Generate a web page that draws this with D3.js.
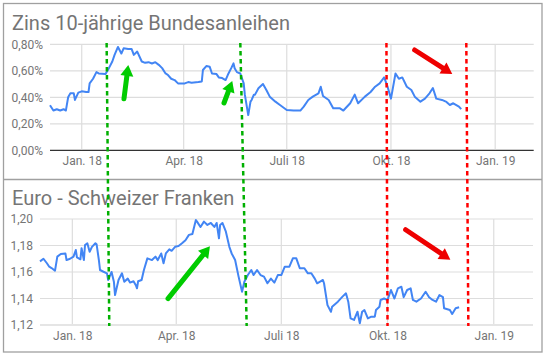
<!DOCTYPE html>
<html><head><meta charset="utf-8">
<script src="https://cdn.jsdelivr.net/npm/d3@7"></script>
<style>body{margin:0;background:#fff} svg{display:block;font-family:Roboto,sans-serif}</style>
</head><body><svg id="c" width="546" height="356"></svg>
<script>
// ---- data ----
const baseDate = "2018-01-01";
const xDomain = ["2017-12-04", "2019-02-04"];
const tickDates = ["2018-01-01", "2018-04-01", "2018-07-01", "2018-10-01", "2019-01-01"];
const tickLabels = ["Jan. 18", "Apr. 18", "Juli 18", "Okt. 18", "Jan. 19"];

const title1 = "Zins 10-jährige Bundesanleihen";
const title2 = "Euro - Schweizer Franken";

// days after 2018-01-01, yield in %
const topDays = [-28,-25,-22,-19,-16,-14,-12,-10,-7,-6,-3,0,4,6,7,10,13,15,21,24,27,29,32,35,37,41,44,46,49,53,56,59,62,65,68,71,74,76,79,82,85,91,94,97,103,106,107,110,113,115,119,121,124,127,129,132,134,135,137,140,143,144,147,149,150,152,153,156,160,163,166,171,175,181,187,193,196,200,204,209,211,213,218,222,228,231,237,241,244,250,255,259,263,267,270,273,277,280,283,287,291,294,299,303,307,310,313,318,322,325,328,333,335];
const topValues = [0.34,0.30,0.31,0.30,0.31,0.30,0.40,0.43,0.43,0.38,0.435,0.445,0.44,0.44,0.505,0.54,0.59,0.58,0.575,0.62,0.67,0.72,0.78,0.73,0.77,0.765,0.765,0.72,0.745,0.67,0.66,0.665,0.655,0.665,0.645,0.62,0.58,0.57,0.54,0.53,0.505,0.505,0.515,0.51,0.515,0.52,0.606,0.636,0.63,0.58,0.575,0.55,0.545,0.53,0.57,0.62,0.656,0.62,0.59,0.58,0.505,0.42,0.266,0.367,0.38,0.42,0.42,0.468,0.50,0.455,0.405,0.367,0.342,0.304,0.30,0.30,0.33,0.38,0.405,0.43,0.48,0.41,0.38,0.317,0.317,0.30,0.355,0.42,0.355,0.405,0.44,0.48,0.505,0.55,0.48,0.39,0.58,0.54,0.55,0.48,0.455,0.405,0.367,0.39,0.43,0.47,0.39,0.38,0.365,0.342,0.355,0.33,0.31];

// days after 2018-01-01, EUR/CHF
const bottomDays = [-28,-25,-22,-20,-18,-15,-13,-10,-6,-5,-2,1,3,4,7,8,10,11,13,15,17,20,21,23,24,27,30,31,34,36,37,40,43,45,48,50,53,55,56,57,60,62,65,69,72,74,77,79,81,84,86,89,92,95,98,101,104,107,108,111,114,117,120,123,125,127,128,130,133,136,138,141,144,147,149,152,155,157,160,163,166,169,172,175,178,181,184,188,191,194,197,201,204,207,210,212,215,217,218,221,224,225,230,234,237,239,241,244,247,249,251,253,256,259,262,263,266,267,270,273,276,279,282,285,287,290,293,295,298,302,306,309,312,315,318,321,322,327,329,332,335];
const bottomValues = [1.168,1.170,1.1666,1.164,1.163,1.161,1.1716,1.1736,1.174,1.169,1.170,1.1716,1.1766,1.171,1.1696,1.178,1.169,1.1804,1.1817,1.1753,1.179,1.1817,1.181,1.169,1.1615,1.1602,1.159,1.154,1.160,1.1527,1.1426,1.154,1.159,1.1527,1.155,1.152,1.153,1.150,1.1477,1.153,1.154,1.1615,1.1703,1.169,1.1716,1.169,1.174,1.1666,1.174,1.1771,1.176,1.179,1.1796,1.1817,1.184,1.188,1.1887,1.1992,1.198,1.194,1.198,1.1955,1.197,1.194,1.197,1.1854,1.1955,1.197,1.1904,1.179,1.174,1.169,1.1565,1.1451,1.1527,1.1577,1.1615,1.1577,1.1615,1.1577,1.1565,1.1515,1.155,1.152,1.1577,1.1577,1.164,1.164,1.1703,1.1703,1.1628,1.1628,1.159,1.159,1.155,1.1515,1.153,1.154,1.1515,1.135,1.130,1.1338,1.1376,1.1414,1.1439,1.1376,1.125,1.1238,1.130,1.1213,1.130,1.1313,1.125,1.1263,1.1263,1.1313,1.1338,1.1389,1.140,1.1389,1.1464,1.140,1.1477,1.1489,1.141,1.1464,1.1477,1.1389,1.1376,1.140,1.1451,1.141,1.1389,1.1376,1.1426,1.141,1.1326,1.1313,1.1283,1.1326,1.1334];

const topYTicks = [0, 0.2, 0.4, 0.6, 0.8];
const bottomYTicks = [1.12, 1.14, 1.16, 1.18, 1.20];

// annotations: dashed lines (day at top end in top panel, day at bottom end in bottom panel)
const vlineTopDays = [22, 140, 269, 339.5];
const vlineBottomDays = [32, 151, 273, 343];
const vlineColors = ["#00b000", "#00b000", "#ff0000", "#ff0000"];

// arrows: [panel, tailDay, tailValue, tipDay, tipValue]
const arrowPanels = ["top", "top", "top", "bottom", "bottom"];
const arrowTail = [[37.3, 0.389], [125.6, 0.357], [293.9, 0.757], [82.9, 1.1399], [288.7, 1.1919]];
const arrowTip = [[41.1, 0.644], [132.9, 0.523], [327.1, 0.576], [119.2, 1.1794], [327.4, 1.1693]];
const arrowColors = ["#00cc00", "#00cc00", "#ee0000", "#00cc00", "#ee0000"];

// ---- drawing ----
const parse = d3.timeParse("%Y-%m-%d");
const base = parse(baseDate);
const dayToDate = d => new Date(base.getTime() + d * 864e5);
const svg = d3.select("#c");
const gridCol = "#dddddd", textCol = "#757575", lineCol = "#4285f4";

const xTop = d3.scaleTime().domain(xDomain.map(parse)).range([50, 533.7]);
const yTop = d3.scaleLinear().domain([0, 0.8]).range([150.3, 44.3]);
const xBot = d3.scaleTime().domain(xDomain.map(parse)).range([40, 533]);
const yBot = d3.scaleLinear().domain([1.12, 1.20]).range([325, 219]);

// frame
svg.append("rect").attr("x", 3.5).attr("y", 3.5).attr("width", 538.5).attr("height", 348.5)
  .attr("fill", "none").attr("stroke", "#a0a0a0").attr("stroke-width", 1.3);
svg.append("line").attr("x1", 3.5).attr("x2", 542).attr("y1", 179.5).attr("y2", 179.5)
  .attr("stroke", "#a0a0a0").attr("stroke-width", 1.3);

function panel(x, y, yTicks, fmt, days, values, title, titleY, baseCol, labelY) {
  const g = svg.append("g");
  const [x0, x1] = x.range();
  g.selectAll(".hg").data(yTicks).join("line")
    .attr("x1", x0).attr("x2", x1).attr("y1", d => y(d)).attr("y2", d => y(d))
    .attr("stroke", (d, i) => i === 0 ? baseCol : gridCol).attr("stroke-width", 1.2);
  g.selectAll(".vg").data(tickDates).join("line")
    .attr("x1", d => x(parse(d))).attr("x2", d => x(parse(d)))
    .attr("y1", y.range()[1]).attr("y2", y.range()[0] - 1)
    .attr("stroke", gridCol).attr("stroke-width", 1.2);
  // y axis labels
  const ya = d3.axisLeft(y).tickValues(yTicks).tickFormat(fmt).tickSize(0).tickPadding(0);
  const yg = g.append("g").attr("transform", `translate(${x0 - 7},0)`).call(ya);
  yg.select(".domain").remove();
  yg.selectAll("text").attr("fill", textCol).style("font-size", "12px").style("font-family", "Roboto");
  // x axis labels
  const xa = d3.axisBottom(x).tickValues(tickDates.map(parse)).tickFormat((d, i) => tickLabels[i]).tickSize(0).tickPadding(0);
  const xg = g.append("g").attr("transform", `translate(0,${labelY})`).call(xa);
  xg.select(".domain").remove();
  xg.selectAll("text").attr("fill", textCol).style("font-size", "12px").style("font-family", "Roboto");
  // line
  const pts = days.map((d, i) => [dayToDate(d), values[i]]);
  g.append("path").datum(pts)
    .attr("d", d3.line().x(p => x(p[0])).y(p => y(p[1])))
    .attr("fill", "none").attr("stroke", lineCol).attr("stroke-width", 2).attr("stroke-linejoin", "round");
  g.append("text").attr("x", 12).attr("y", titleY).text(title)
    .attr("fill", textCol).style("font-size", "20px").style("font-family", "Roboto");
}

const fmtTop = d => d3.format(".2f")(d).replace(".", ",") + "%";
const fmtBot = d => d3.format(".2f")(d).replace(".", ",");
panel(xTop, yTop, topYTicks, fmtTop, topDays, topValues, title1, 29.5, "#333333", 156);
panel(xBot, yBot, bottomYTicks, fmtBot, bottomDays, bottomValues, title2, 204.5, "#cccccc", 331);

// dashed annotation lines
svg.selectAll(".vl").data(vlineTopDays).join("line")
  .attr("x1", (d, i) => xTop(dayToDate(d))).attr("y1", yTop(0.81))
  .attr("x2", (d, i) => xBot(dayToDate(vlineBottomDays[i]))).attr("y2", yBot(1.1192))
  .attr("stroke", (d, i) => vlineColors[i]).attr("stroke-width", 2.5).attr("stroke-dasharray", "4.5,3.5");

// arrows
arrowPanels.forEach((p, i) => {
  const x = p === "top" ? xTop : xBot, y = p === "top" ? yTop : yBot;
  const tx = x(dayToDate(arrowTail[i][0])), ty = y(arrowTail[i][1]);
  const hx = x(dayToDate(arrowTip[i][0])), hy = y(arrowTip[i][1]);
  const dx = hx - tx, dy = hy - ty, L = Math.hypot(dx, dy);
  const ux = dx / L, uy = dy / L, px = -uy, py = ux;
  const hl = 11, hw = 6.5;
  const bx = hx - ux * hl, by = hy - uy * hl;
  svg.append("line").attr("x1", tx).attr("y1", ty).attr("x2", bx + ux * 1).attr("y2", by + uy * 1)
    .attr("stroke", arrowColors[i]).attr("stroke-width", 5).attr("stroke-linecap", "round");
  svg.append("path").attr("d", `M${hx},${hy}L${bx + px * hw},${by + py * hw}L${bx - px * hw},${by - py * hw}Z`)
    .attr("fill", arrowColors[i]);
});
</script></body></html>
